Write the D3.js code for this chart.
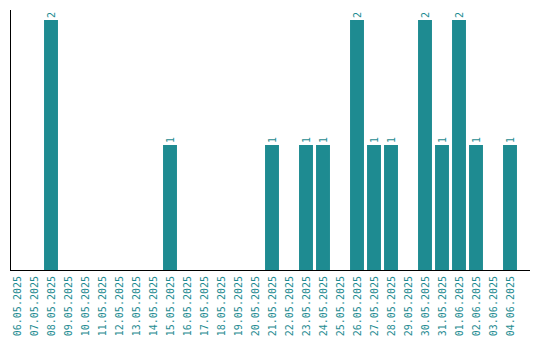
<!DOCTYPE html>
<html>
<head>
<meta charset="utf-8">
<script src="https://cdn.jsdelivr.net/npm/d3@7"></script>
<style>
  body { margin: 0; background: #fff; }
  svg text { font-family: "DejaVu Sans Mono", monospace; font-size: 10px; fill: #1e8b91; }
</style>
</head>
<body>
<svg id="chart" width="540" height="340"></svg>
<script>
var dates = ["06.05.2025", "07.05.2025", "08.05.2025", "09.05.2025", "10.05.2025",
    "11.05.2025", "12.05.2025", "13.05.2025", "14.05.2025", "15.05.2025",
    "16.05.2025", "17.05.2025", "18.05.2025", "19.05.2025", "20.05.2025",
    "21.05.2025", "22.05.2025", "23.05.2025", "24.05.2025", "25.05.2025",
    "26.05.2025", "27.05.2025", "28.05.2025", "29.05.2025", "30.05.2025",
    "31.05.2025", "01.06.2025", "02.06.2025", "03.06.2025", "04.06.2025"];
var counts = [0, 0, 2, 0, 0, 0, 0, 0, 0, 1,
    0, 0, 0, 0, 0, 1, 0, 1, 1, 0,
    2, 1, 1, 0, 2, 1, 2, 1, 0, 1];

var barColor = "#1e8b91";
var svg = d3.select("#chart");

var x = d3.scaleBand()
    .domain(dates)
    .range([8.5, 518.5])
    .paddingInner(0.18)
    .paddingOuter(0.09);

var y = d3.scaleLinear()
    .domain([0, 2])
    .range([270, 20]);

var data = dates.map((d, i) => ({ date: d, value: counts[i] }));

// Bars
svg.append("g")
    .selectAll("rect")
    .data(data.filter(d => d.value > 0))
    .join("rect")
    .attr("x", d => x(d.date))
    .attr("width", x.bandwidth())
    .attr("y", d => y(d.value))
    .attr("height", d => y(0) - y(d.value))
    .attr("fill", barColor);

// Value labels above bars
svg.append("g")
    .selectAll("text")
    .data(data.filter(d => d.value > 0))
    .join("text")
    .attr("transform", d => `translate(${x(d.date) + x.bandwidth() / 2},${y(d.value) - 2}) rotate(-90)`)
    .attr("dy", "0.35em")
    .attr("text-anchor", "start")
    .text(d => d.value);

// Axes lines
svg.append("line")
    .attr("x1", 10.5).attr("x2", 10.5)
    .attr("y1", 10).attr("y2", 270.5)
    .attr("stroke", "#000");
svg.append("line")
    .attr("x1", 10).attr("x2", 530)
    .attr("y1", 270.5).attr("y2", 270.5)
    .attr("stroke", "#000");

// Date labels
svg.append("g")
    .selectAll("text")
    .data(dates)
    .join("text")
    .attr("transform", d => `translate(${x(d) + x.bandwidth() / 2},276) rotate(-90)`)
    .attr("dy", "0.35em")
    .attr("text-anchor", "end")
    .text(d => d);
</script>
</body>
</html>
